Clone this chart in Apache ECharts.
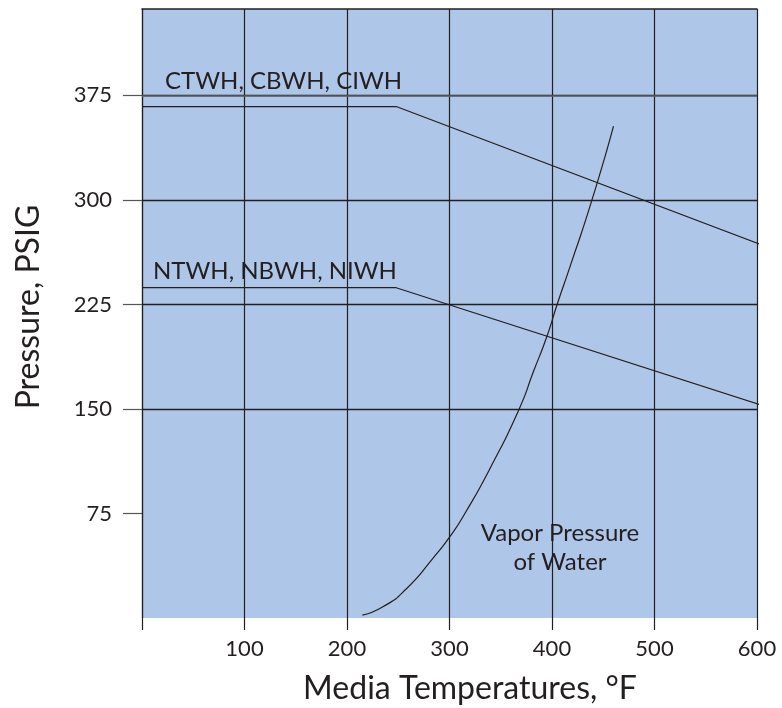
<!DOCTYPE html>
<html>
<head>
<meta charset="utf-8">
<script src="https://cdn.jsdelivr.net/npm/echarts@6/dist/echarts.min.js"></script>
<style>html,body{margin:0;padding:0;background:#fff}#c{width:782px;height:708px}</style>
</head>
<body>
<div id="c"></div>
<script>
// Data
const xTicks = [0, 100, 200, 300, 400, 500, 600];
const yTicks = [75, 150, 225, 300, 375];
const highlightTick = 375;
const ctwhLine = [[0, 367], [248, 367], [611, 266]];
const ntwhLine = [[0, 237], [248, 237], [612, 151]];
const vaporPressure = [[215, 2], [235, 8], [258, 21], [284, 43], [301, 59], [315, 75], [340, 108], [368, 150], [382, 177], [395, 202], [405, 225], [418, 253], [439, 300], [460, 353]];
const labelCT = 'CTWH, CBWH, CIWH';
const labelNT = 'NTWH, NBWH, NIWH';
const labelVapor = 'Vapor Pressure\nof Water';
const xTitle = 'Media Temperatures, °F';
const yTitle = 'Pressure, PSIG';

const FONT = 'Lato, "Noto Sans", sans-serif';
const ink = '#231f20';
const chart = echarts.init(document.getElementById('c'));
const lineStyle = { color: ink, width: 1.2 };
chart.setOption({
  animation: false,
  grid: { left: 142, top: 9, width: 615, height: 609, show: true, backgroundColor: '#aec6e7', borderWidth: 0 },
  xAxis: [{
    type: 'value', min: 0, max: 600, interval: 100,
    axisLine: { show: false },
    axisTick: { show: true, length: 12, lineStyle: { color: ink, width: 1.2 } },
    axisLabel: { margin: 20, fontFamily: FONT, fontSize: 22, color: ink,
      formatter: v => (v === 0 ? '' : String(v)) },
    splitLine: { show: true, lineStyle: { color: ink, width: 1.2 } }
  }, {
    type: 'value', position: 'top', min: 0, max: 600,
    axisLine: { show: true, lineStyle: { color: ink, width: 1.5 } },
    axisTick: { show: false }, axisLabel: { show: false }, splitLine: { show: false }
  }],
  yAxis: {
    type: 'value', min: 0, max: 437, interval: 75,
    axisLine: { show: true, lineStyle: { color: ink, width: 1.2 } },
    axisTick: { show: true, length: 19, customValues: yTicks, lineStyle: { color: '#555', width: 1.2 } },
    axisLabel: { margin: 30, fontFamily: FONT, fontSize: 22, color: ink, customValues: yTicks },
    splitLine: { show: true, showMinLine: false, lineStyle: { color: ink, width: 1.3 } }
  },
  series: [
    { type: 'line', data: ctwhLine, showSymbol: false, clip: false, lineStyle, silent: true,
      markLine: { silent: true, symbol: 'none', label: { show: false },
        lineStyle: { color: '#5d636b', width: 1.7, type: 'solid' }, data: [{ yAxis: highlightTick }] } },
    { type: 'line', data: ntwhLine, showSymbol: false, clip: false, lineStyle, silent: true },
    { type: 'line', data: vaporPressure, showSymbol: false, smooth: 0.6, clip: false, lineStyle, silent: true }
  ],
  graphic: [
    { type: 'text', left: 165, top: 69, style: { text: labelCT, font: '24px ' + FONT, fill: ink } },
    { type: 'text', left: 153, top: 259, style: { text: labelNT, font: '24px ' + FONT, fill: ink } },
    { type: 'text', x: 560, y: 519, style: { text: labelVapor, font: '24px ' + FONT, fill: ink, align: 'center', lineHeight: 29 } },
    { type: 'text', x: 470, y: 689, style: { text: xTitle, font: '32px ' + FONT, fill: ink, align: 'center', verticalAlign: 'middle' } },
    { type: 'text', x: 29, y: 307, rotation: Math.PI / 2, style: { text: yTitle, font: '32px ' + FONT, fill: ink, align: 'center', verticalAlign: 'middle' } }
  ]
});
</script>
</body>
</html>
